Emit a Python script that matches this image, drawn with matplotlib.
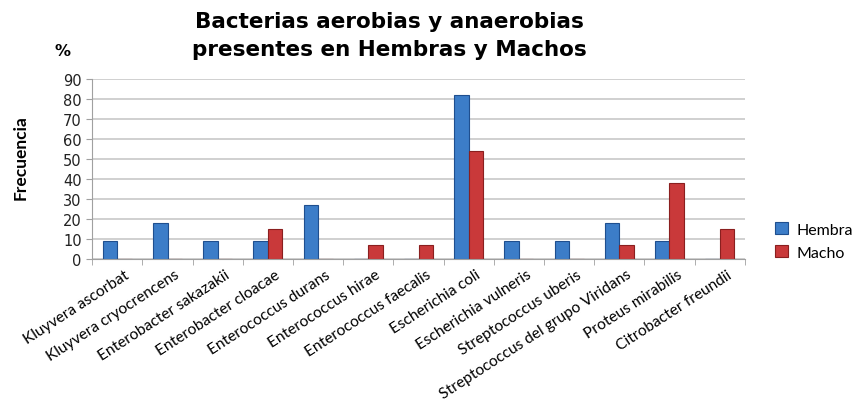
import numpy as np
import matplotlib
matplotlib.use("Agg")
import matplotlib.pyplot as plt

categories = ["Kluyvera ascorbat", "Kluyvera cryocrencens", "Enterobacter sakazakii",
              "Enterobacter cloacae", "Enterococcus durans", "Enterococcus hirae",
              "Enterococcus faecalis", "Escherichia coli", "Escherichia vulneris",
              "Streptococcus uberis", "Streptococcus del grupo Viridans",
              "Proteus mirabilis", "Citrobacter freundii"]
hembra = [9, 18, 9, 9, 27, 0, 0, 82, 9, 9, 18, 9, 0]
macho = [0, 0, 0, 15, 0, 7, 7, 54, 0, 0, 7, 38, 15]

plt.rcParams['font.family'] = ['Lato', 'DejaVu Sans']

fig = plt.figure(figsize=(8.62, 4.06), dpi=100)
ax = fig.add_axes([0.107, 0.360, 0.757, 0.443])

x = np.arange(len(categories))
w = 0.29
ax.bar(x - w / 2, hembra, w, color="#3c7dc8", edgecolor="#1f4f8f", linewidth=0.8, label="Hembra")
ax.bar(x + w / 2, macho, w, color="#c9393a", edgecolor="#8a1f1f", linewidth=0.8, label="Macho")

ax.set_xlim(-0.5, len(categories) - 0.5)
ax.set_ylim(0, 90)
ax.set_yticks(range(0, 91, 10))
ax.yaxis.grid(True, color="#c8c8c8", linewidth=1.2)
ax.set_axisbelow(True)
for s in ["top", "right"]:
    ax.spines[s].set_visible(False)
ax.spines["left"].set_color("#a0a0a0")
ax.spines["bottom"].set_color("#a0a0a0")
ax.tick_params(axis="y", length=4, color="#a0a0a0", labelsize=10.5, labelcolor="#222222")
for t in ax.get_yticklabels():
    t.set_family("DejaVu Sans")

ax.set_xticks(x + 0.14)
ax.set_xticklabels(categories, rotation=33, ha="right", rotation_mode="anchor", fontsize=11.2)
ax.tick_params(axis="x", length=0, pad=6)
ax.set_xticks(np.arange(-0.5, len(categories), 1), minor=True)
ax.tick_params(axis="x", which="minor", length=4, color="#a0a0a0")

fig.text(0.452, 0.946, "Bacterias aerobias y anaerobias", ha="center", va="center",
         fontsize=15.5, fontweight="bold", family="DejaVu Sans")
fig.text(0.452, 0.877, "presentes en Hembras y Machos", ha="center", va="center",
         fontsize=15.5, fontweight="bold", family="DejaVu Sans")
fig.text(0.072, 0.874, "%", ha="center", va="center", fontsize=11.5, fontweight="bold",
         family="DejaVu Sans")
fig.text(0.024, 0.613, "Frecuencia", rotation=90, ha="center", va="center",
         fontsize=12.5, fontweight="bold")

ax.legend(loc="center left", bbox_to_anchor=(1.025, 0.1), frameon=False,
          fontsize=11.5, handlelength=0.8, handleheight=0.8, labelspacing=0.5,
          handletextpad=0.5)

fig.savefig("out.png", dpi=100)
